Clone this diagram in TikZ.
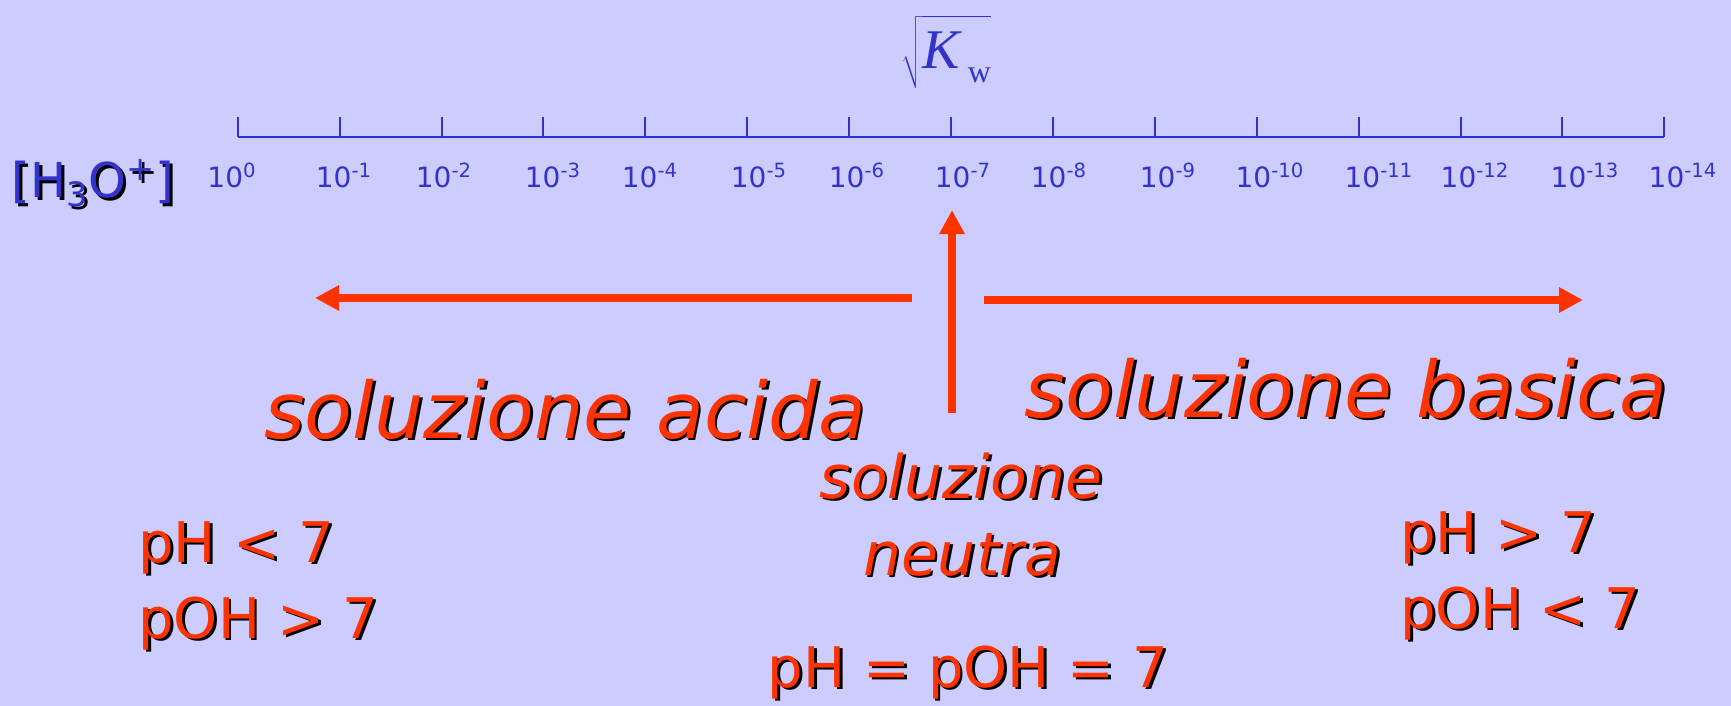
\documentclass[tikz,border=0pt]{standalone}
\usepackage{fix-cm}
\usepackage{fontspec}
\setmainfont{DejaVu Sans}
\newfontfamily\kwfont{Liberation Serif}
\usetikzlibrary{arrows.meta}
\definecolor{slidebg}{HTML}{CCCCFF}
\definecolor{scaleblue}{HTML}{3333CC}
\definecolor{phred}{HTML}{FF3300}
\newcommand{\dropshade}[1]{\makebox[0pt][l]{\hspace{1.4pt}\raisebox{-1.4pt}{\color{black}#1}}#1}

\begin{document}
\begin{tikzpicture}[
            x=0.5pt, y=-0.5pt,
            every node/.style={inner sep=0pt},
            tick label/.style={text=scaleblue, font=\fontsize{14}{16}\selectfont, anchor=base},
            big label/.style={text=phred, font=\fontsize{39}{46}\selectfont\itshape, anchor=base},
            small label/.style={text=phred, font=\fontsize{30}{36}\selectfont\itshape, anchor=base},
            ph label/.style={text=phred, font=\fontsize{28}{34}\selectfont},
            range arrow/.style={phred, line width=4pt, -{Triangle[length=12pt,width=12pt]}}
        ]
        \fill[slidebg] (0,0) rectangle (1731,706);
        \useasboundingbox (0,0) rectangle (1731,706);

        \draw[scaleblue, line width=1pt] (237.7,137) -- (1664.3,137);
        \foreach \i in {0,...,14}
            \draw[scaleblue, line width=1pt] (237.7+101.9*\i,117) -- ++(0,20);
        \foreach \e/\lx in {0/232,1/344,2/444,3/553,4/650,5/759,6/857,7/963,
                            8/1059,9/1168,10/1270,11/1379,12/1475,13/1585,14/1683}
            \node[tick label] (t\e) at (\lx,188) {10\textsuperscript{\ifnum\e=0 0\else-\e\fi}};

        \node[text=scaleblue, font=\fontsize{24}{28}\selectfont, anchor=base] (hydronium) at (93,198)
            {\dropshade{[H\textsubscript{3}O\textsuperscript{+}]}};
        \node[text=scaleblue, font=\fontsize{28}{34}\selectfont, anchor=base] (sqrtkw) at (946,69)
            {$\sqrt{\rule[-0.3em]{0pt}{1.16em}\hbox{\kwfont\itshape K\kern0.15em\raisebox{-0.25em}{\upshape\fontsize{16}{18}\selectfont w}}}$};

        \coordinate (acidstart) at (912,298);
        \coordinate (acidend) at (315,298);
        \coordinate (basicstart) at (984,300);
        \coordinate (basicend) at (1583,300);
        \coordinate (neutralfoot) at (952,413);
        \coordinate (neutraltip) at (952,210);
        \draw[range arrow] (acidstart) -- (acidend);
        \draw[range arrow] (basicstart) -- (basicend);
        \draw[range arrow] (neutralfoot) -- (neutraltip);

        \node[big label] (acid) at (565,438) {\dropshade{soluzione acida}};
        \node[big label] (basic) at (1346,417) {\dropshade{soluzione basica}};
        \node[small label] (neutral1) at (961,498) {\dropshade{soluzione}};
        \node[small label] (neutral2) at (962,575) {\dropshade{neutra}};
        \node[ph label, anchor=base] (neutralph) at (968,687) {\dropshade{pH = pOH = 7}};
        \node[ph label, anchor=base west] (acidph) at (138,562) {\dropshade{pH < 7}};
        \node[ph label, anchor=base west] (acidpoh) at (138,638) {\dropshade{pOH > 7}};
        \node[ph label, anchor=base west] (basicph) at (1400,552) {\dropshade{pH > 7}};
        \node[ph label, anchor=base west] (basicpoh) at (1400,628) {\dropshade{pOH < 7}};
\end{tikzpicture}
\end{document}
